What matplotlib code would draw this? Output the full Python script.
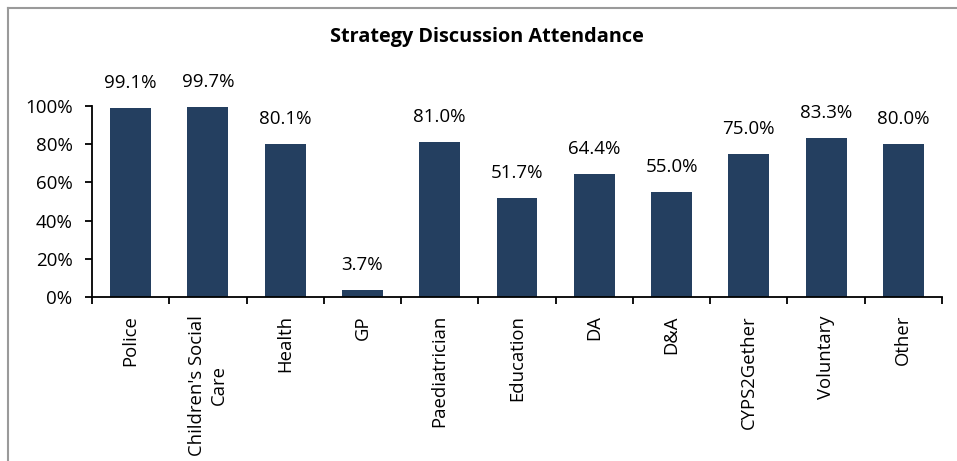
import matplotlib
matplotlib.use("Agg")
import matplotlib.pyplot as plt
from matplotlib.lines import Line2D
import numpy as np

categories = ["Police", "Children's Social\nCare", "Health", "GP", "Paediatrician",
              "Education", "DA", "D&A", "CYPS2Gether", "Voluntary", "Other"]
values = [99.1, 99.7, 80.1, 3.7, 81.0, 51.7, 64.4, 55.0, 75.0, 83.3, 80.0]
yticks = [0, 20, 40, 60, 80, 100]
title = "Strategy Discussion Attendance"

plt.rcParams['font.family'] = ['Open Sans', 'DejaVu Sans']

W, H = 957, 461
fig = plt.figure(figsize=(W / 100, H / 100), dpi=100)
fig.patch.set_facecolor('white')

# chart border (top and left edges visible)
fig.lines.append(Line2D([8 / W, 1.01], [1 - 8.5 / H, 1 - 8.5 / H], transform=fig.transFigure,
                        color='#9a9a9a', linewidth=1.5))
fig.lines.append(Line2D([8 / W, 8 / W], [1 - 8.5 / H, -0.01], transform=fig.transFigure,
                        color='#9a9a9a', linewidth=1.5))

ax = fig.add_axes([92 / W, 1 - 297 / H, (942 - 92) / W, (297 - 106) / H])
x = np.arange(len(categories))
bars = ax.bar(x, values, width=0.53, color='#243F60')
ax.set_xlim(-0.5, len(categories) - 0.5)
ax.set_ylim(0, 100)

for xi, v in zip(x, values):
    ax.annotate(f"{v:.1f}%", (xi, v), xytext=(0, 11.5), textcoords='offset points',
                ha='center', va='bottom', fontsize=13.5, annotation_clip=False)

ax.set_yticks(yticks)
ax.set_yticklabels([f"{t}%" for t in yticks], fontsize=13.5)
ax.set_xticks(x)
ax.set_xticklabels(categories, rotation=90, fontsize=13.3, ha='center', va='top',
                   multialignment='center', linespacing=1.25)
ax.tick_params(axis='x', which='major', length=0, pad=13)
ax.set_xticks(np.arange(len(categories) + 1) - 0.5, minor=True)
ax.tick_params(axis='x', which='minor', length=5, width=1.3, direction='out')
ax.tick_params(axis='y', length=5, width=1.3, direction='out', pad=9)

for s in ['top', 'right']:
    ax.spines[s].set_visible(False)
for s in ['left', 'bottom']:
    ax.spines[s].set_linewidth(1.3)

fig.text(487 / W, 1 - 37 / H, title, ha='center', va='center', fontsize=14.3,
         fontweight='bold')

fig.savefig("out.png", dpi=100, facecolor='white')
